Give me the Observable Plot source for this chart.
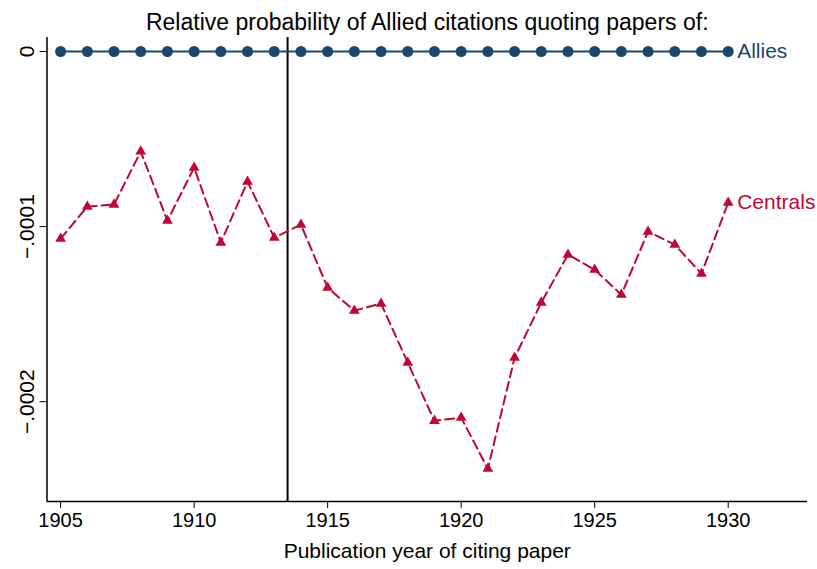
<!DOCTYPE html>
<html><head><meta charset="utf-8">
<script src="https://cdn.jsdelivr.net/npm/d3@7"></script>
<script src="https://cdn.jsdelivr.net/npm/@observablehq/plot@0.6"></script>
<style>body{margin:0;background:#fff;font-family:"Liberation Sans",Arial,sans-serif;overflow:hidden}</style>
</head><body><div id="chart"></div>
<script>
const years = d3.range(1905, 1931);
const allies = years.map(() => 0);
const centrals = [-0.0001069,-0.0000886,-0.0000874,-0.0000571,-0.0000966,-0.0000663,-0.0001091,-0.0000743,-0.0001063,
  -0.0000989,-0.0001349,-0.000148,-0.000144,-0.0001777,-0.0002109,-0.0002091,-0.0002383,-0.0001749,-0.0001434,
  -0.000116,-0.0001246,-0.0001389,-0.0001029,-0.0001103,-0.0001269,-0.0000863];
const yTicks = [0, -0.0001, -0.0002];
const yTickLabels = ["0", "\u2212.0001", "\u2212.0002"];
const xTicks = [1905, 1910, 1915, 1920, 1925, 1930];
const cutoff = 1913.5;
const title = "Relative probability of Allied citations quoting papers of:";
const xLabel = "Publication year of citing paper";
const seriesNames = ["Allies", "Centrals"];
const colors = ["#1a476f", "#c10534"];

const aData = years.map((y, i) => ({year: y, v: allies[i]}));
const cData = years.map((y, i) => ({year: y, v: centrals[i]}));

const plot = Plot.plot({
  width: 817, height: 569,
  marginLeft: 46.5, marginRight: 10, marginTop: 37, marginBottom: 68,
  style: {fontFamily: "'Liberation Sans', Arial, sans-serif", fontSize: "20px", color: "#000", background: "#fff"},
  x: {domain: [1904.49, 1932.97]},
  y: {domain: [-0.000257, 0.000008]},
  marks: [
    Plot.axisX({ticks: xTicks, tickFormat: d => String(d), tickSize: 7, tickPadding: 4, fontSize: 20, label: null}),
    Plot.axisY({ticks: yTicks, tickFormat: d => yTickLabels[yTicks.indexOf(d)], tickSize: 7, tickPadding: 6, tickRotate: -90, fontSize: 21, label: null}),
    Plot.ruleY([-0.000257], {stroke: "#000", strokeWidth: 1.5}),
    Plot.ruleX([1904.49], {stroke: "#000", strokeWidth: 1.5}),
    Plot.ruleX([cutoff], {stroke: "#000", strokeWidth: 2}),
    Plot.line(aData, {x: "year", y: "v", stroke: colors[0], strokeWidth: 2}),
    Plot.dot(aData, {x: "year", y: "v", fill: colors[0], r: 5.5}),
    Plot.line(cData, {x: "year", y: "v", stroke: colors[1], strokeWidth: 2, strokeDasharray: "9,5"}),
    Plot.dot(cData, {x: "year", y: "v", fill: colors[1], symbol: "triangle", r: 4}),
    Plot.text([aData[aData.length-1]], {x: "year", y: "v", text: () => seriesNames[0], fill: colors[0], textAnchor: "start", dx: 9, fontSize: 21}),
    Plot.text([cData[cData.length-1]], {x: "year", y: "v", text: () => seriesNames[1], fill: colors[1], textAnchor: "start", dx: 9, fontSize: 21}),
    Plot.text([title], {frameAnchor: "top", dy: -24, fontSize: 23, fill: "#000"}),
    Plot.text([xLabel], {frameAnchor: "bottom", dy: 56, fontSize: 21, fill: "#000"})
  ]
});
document.getElementById("chart").appendChild(plot);
</script></body></html>
